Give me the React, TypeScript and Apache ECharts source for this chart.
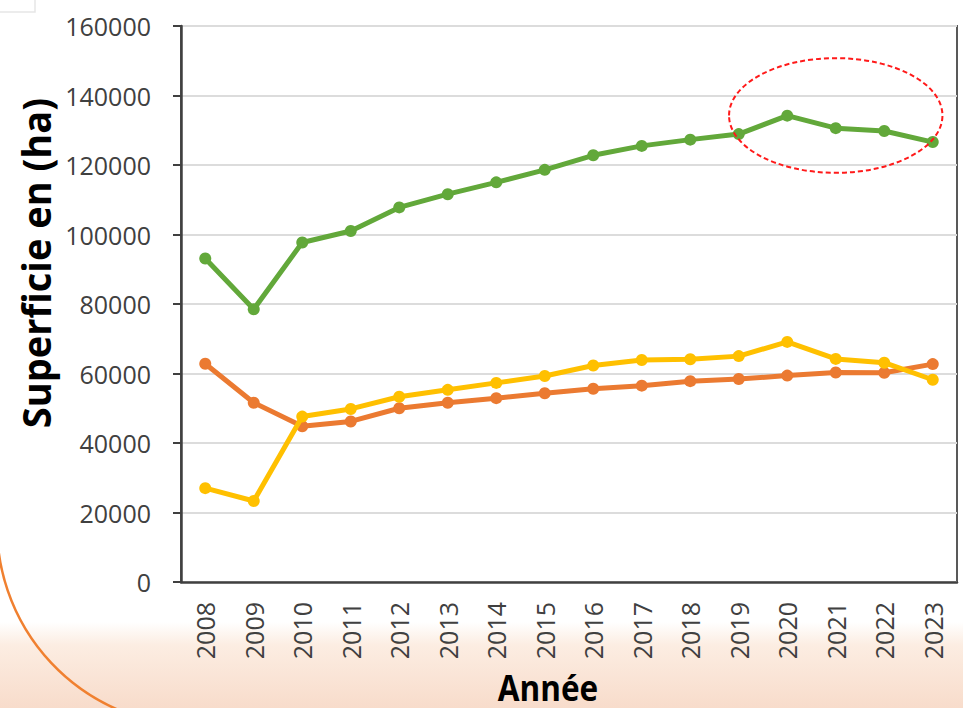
import React, { useEffect, useRef } from "react";
import * as echarts from "echarts";

const years = ["2008", "2009", "2010", "2011", "2012", "2013", "2014", "2015", "2016", "2017", "2018", "2019", "2020", "2021", "2022", "2023"];
const greenValues = [93100, 78500, 97700, 101000, 107800, 111600, 115000, 118600, 122800, 125500, 127300, 128900, 134200, 130600, 129800, 126600];
const orangeValues = [62800, 51600, 44800, 46200, 50000, 51600, 52900, 54300, 55600, 56500, 57800, 58400, 59400, 60300, 60200, 62700];
const yellowValues = [27000, 23300, 47600, 49800, 53300, 55300, 57300, 59300, 62300, 63900, 64100, 65000, 69100, 64200, 63100, 58200];
const yTitle = "Superficie en (ha)";
const xTitle = "Année";
// highlighted zone (category centre, value centre, half-width in categories, half-height in value)
const highlightCenter = ["2021", 134250];
const highlightHalfWidthCats = 2.2;
const highlightHalfHeight = 16500;

const FONT = "Open Sans";

export default function App() {
  const ref = useRef<HTMLDivElement>(null);
  useEffect(() => {
    if (!ref.current) return;
    const chart = echarts.init(ref.current, undefined, { renderer: "svg" });
    const lineSeries = (name: string, data: number[], color: string, z: number) => ({
      name,
      type: "line",
      data,
      z,
      symbol: "circle",
      symbolSize: 12,
      lineStyle: { color, width: 5 },
      itemStyle: { color },
      emphasis: { disabled: true },
    });
    chart.setOption({
      animation: false,
      grid: {
        left: 181,
        right: 6,
        top: 26,
        bottom: 126,
        show: true,
        borderColor: "#595959",
        borderWidth: 2,
        backgroundColor: "transparent",
      },
      xAxis: {
        type: "category",
        data: years,
        boundaryGap: true,
        axisLine: { lineStyle: { color: "#404040", width: 2.5 } },
        axisTick: { inside: true, length: 9, lineStyle: { color: "#404040", width: 2 }, interval: 0 },
        axisLabel: { rotate: 90, margin: 20, fontSize: 25, color: "#404040", fontFamily: FONT, interval: 0 },
        splitLine: { show: false },
      },
      yAxis: {
        type: "value",
        min: 0,
        max: 160000,
        interval: 20000,
        axisLine: { show: true, lineStyle: { color: "#404040", width: 2.5 } },
        axisTick: { show: true, length: 8, lineStyle: { color: "#404040", width: 2 } },
        axisLabel: {
          margin: 30,
          fontSize: 25,
          color: "#404040",
          fontFamily: FONT,
          formatter: (v: number) => String(v),
        },
        splitLine: { lineStyle: { color: "#dcdcdc", width: 2 } },
      },
      series: [
        lineSeries("Vert", greenValues, "#62A83A", 3),
        lineSeries("Orange", orangeValues, "#EB7A31", 4),
        lineSeries("Jaune", yellowValues, "#FFC000", 5),
      ],
    });

    const c = chart.convertToPixel({ gridIndex: 0 }, highlightCenter) as number[];
    const c0 = chart.convertToPixel({ gridIndex: 0 }, [years[0], 0]) as number[];
    const c1 = chart.convertToPixel({ gridIndex: 0 }, [years[1], highlightHalfHeight]) as number[];
    const band = c1[0] - c0[0];
    const rx = band * highlightHalfWidthCats;
    const ry = c0[1] - c1[1];

    chart.setOption({
      graphic: [
        {
          type: "arc",
          shape: { cx: 197, cy: 526, r: 200, startAngle: Math.PI / 2, endAngle: Math.PI * 1.02, clockwise: true },
          style: { stroke: "#F08030", lineWidth: 2.5, fill: "none" },
          silent: true,
          z: 1,
        },
        {
          type: "polyline",
          shape: { points: [[0, 12], [35, 12], [35, 0]] },
          style: { stroke: "#e6e6e6", lineWidth: 1.5, fill: "none" },
          silent: true,
        },
        {
          type: "ellipse",
          shape: { cx: c[0], cy: c[1], rx, ry },
          style: { stroke: "#FF1A1A", lineWidth: 2, lineDash: [5, 3], fill: "none" },
          silent: true,
          z: 10,
        },
        {
          type: "text",
          x: 35,
          y: 263,
          rotation: Math.PI / 2,
          scaleX: 0.95,
          style: {
            text: yTitle,
            font: `bold 40px "${FONT}"`,
            fill: "#000",
            align: "center",
            verticalAlign: "middle",
          },
          silent: true,
        },
        {
          type: "text",
          x: 548,
          y: 687,
          scaleX: 0.9,
          style: {
            text: xTitle,
            font: `bold 35px "${FONT}"`,
            fill: "#000",
            align: "center",
            verticalAlign: "middle",
          },
          silent: true,
        },
      ],
    });
    return () => chart.dispose();
  }, []);
  return (
    <div
      style={{
        position: "fixed",
        left: 0,
        top: 0,
        width: 963,
        height: 708,
        background: "linear-gradient(to bottom, #ffffff 0px, #ffffff 622px, #fcede2 645px, #f8dccb 708px)",
      }}
    >
      <div ref={ref} style={{ width: 963, height: 708 }} />
    </div>
  );
}
